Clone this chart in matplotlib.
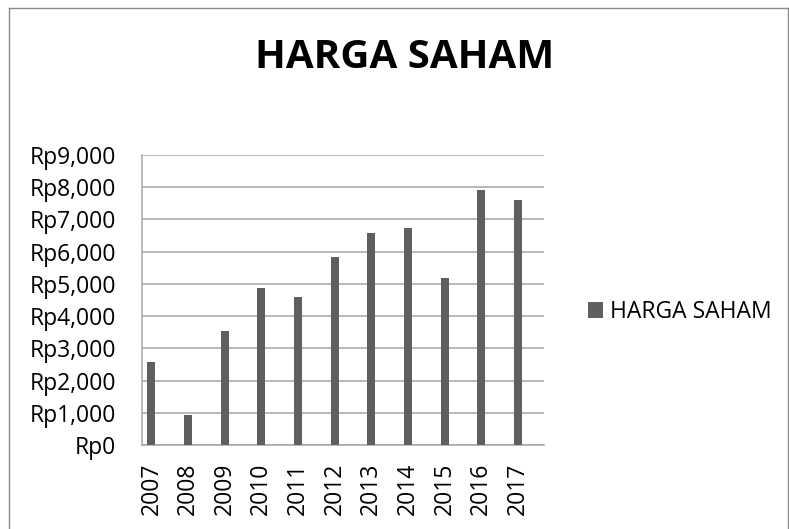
import numpy as np
import matplotlib
matplotlib.use("Agg")
import matplotlib.pyplot as plt
from matplotlib.lines import Line2D

# data
years = ["2007", "2008", "2009", "2010", "2011", "2012",
         "2013", "2014", "2015", "2016", "2017"]
harga = [2575, 920, 3540, 4865, 4600, 5850, 6585, 6750, 5175, 7925, 7615]
yticks = [0, 1000, 2000, 3000, 4000, 5000, 6000, 7000, 8000, 9000]
series_name = "HARGA SAHAM"

plt.rcParams["font.family"] = ["Open Sans", "DejaVu Sans"]

W, H = 789, 529
fig = plt.figure(figsize=(W / 100, H / 100), dpi=100)
ax = fig.add_axes([141.5 / W, 1 - 445 / H, (544 - 141.5) / W, (445 - 155) / H])

x = np.arange(len(years))
ax.bar(x, harga, width=0.22, color="#5f5f5f", label=series_name, zorder=3)

grid_col = "#a6a6a6"
ax.set_ylim(0, 9000)
ax.set_xlim(-0.27, 10.71)
ax.set_yticks(yticks)
ax.set_yticklabels(["Rp{:,}".format(v) for v in yticks])
ax.set_xticks(x)
ax.set_xticklabels(years, rotation=90)
ax.yaxis.grid(True, color=grid_col, linewidth=1.1, zorder=0)
ax.tick_params(axis="y", length=0, pad=18.5, labelsize=16.5, colors="black")
ax.tick_params(axis="x", length=0, pad=13, labelsize=16.5, colors="black")
for s in ["top", "right"]:
    ax.spines[s].set_visible(False)
for s in ["left", "bottom"]:
    ax.spines[s].set_color(grid_col)
    ax.spines[s].set_linewidth(1.1)

fig.text(405 / W, 1 - 57.5 / H, series_name, ha="center", va="center",
         fontsize=29, fontweight="bold")

ax.legend(loc="center left", bbox_to_anchor=(588 / W, 1 - 312 / H),
          bbox_transform=fig.transFigure, frameon=False, fontsize=16.5,
          handlelength=0.65, handleheight=0.65, handletextpad=0.3,
          borderpad=0, borderaxespad=0)

# outer chart border
border = dict(color="#8c8c8c", linewidth=1.0, transform=fig.transFigure)
fig.add_artist(Line2D([8.5 / W, 8.5 / W], [0, 1 - 7.5 / H], **border))
fig.add_artist(Line2D([8.5 / W, 787.5 / W], [1 - 7.5 / H, 1 - 7.5 / H], **border))
fig.add_artist(Line2D([787.5 / W, 787.5 / W], [0, 1 - 7.5 / H], **border))

fig.savefig("out.png", dpi=100, facecolor="white")
